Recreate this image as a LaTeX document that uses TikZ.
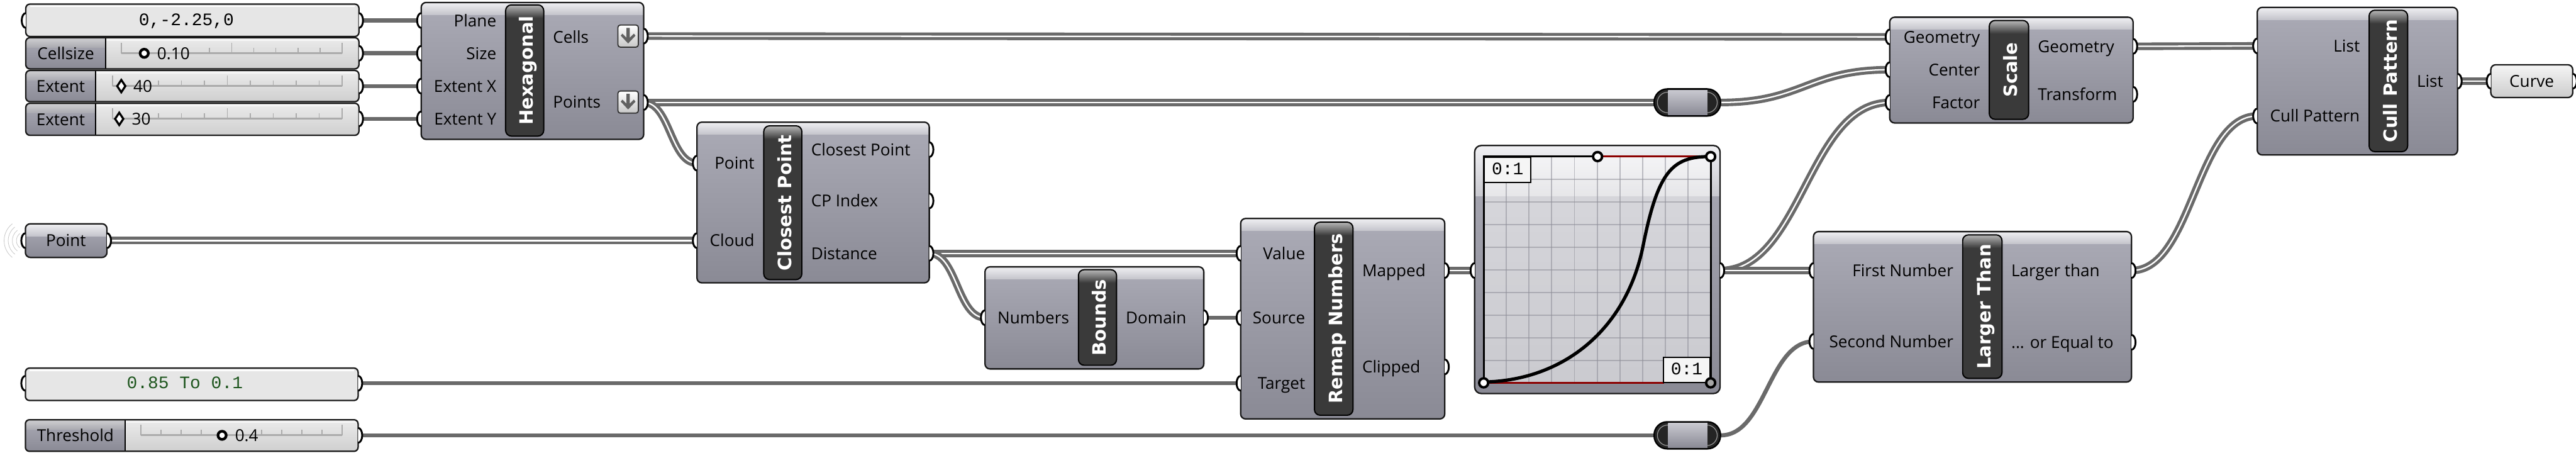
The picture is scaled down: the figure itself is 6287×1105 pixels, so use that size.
\documentclass[tikz,border=0pt]{standalone}
\usepackage{fontspec}
\newfontfamily\labf{Open Sans}
\newfontfamily\ttlf{DejaVu Sans}
\newfontfamily\monof{Liberation Mono}

\definecolor{bodyTop}{HTML}{ABABB6}
\definecolor{bodyBot}{HTML}{8A8A95}
\definecolor{hiTop}{HTML}{F0F0F3}
\definecolor{hiBot}{HTML}{C4C4CB}
\definecolor{wireC}{HTML}{6A6A6A}
\definecolor{ttlC}{HTML}{3A3A3A}
\definecolor{valTop}{HTML}{EBEBEB}
\definecolor{valBot}{HTML}{CFCFCF}
\definecolor{panelC}{HTML}{E6E6E6}
\definecolor{monoGreen}{HTML}{1E561E}
\definecolor{gridC}{HTML}{8E8E98}
\definecolor{redC}{HTML}{8B0000}
\definecolor{tickC}{HTML}{ABABAB}

\tikzset{
  lbl/.style={font=\labf\fontsize{11.4}{13}\selectfont, inner sep=0pt, text height=0.29cm, text depth=0pt},
  ttl/.style={font=\ttlf\bfseries\fontsize{12.7}{14}\selectfont, text=white, rotate=90, inner sep=0pt, text height=0.33cm, text depth=0pt},
  mono/.style={font=\monof\fontsize{12.2}{14}\selectfont, inner sep=0pt, text height=0.245cm, text depth=0pt},
  grip/.style={draw=black, fill=white, line width=0.045cm},
  wire/.style={draw=wireC, line width=0.1cm},
  wlist/.style={draw=wireC, line width=0.075cm, double=white, double distance=0.035cm},
  frame/.style={draw=black!90, line width=0.035cm},
  anchorbox/.style={inner sep=0pt, minimum width=1.62cm, minimum height=0.66cm},
}

% component body: x1 y1 x2 y2
\newcommand\ghbody[4]{%
  \begin{scope}
    \clip[rounded corners=0.12cm] (#1,#2) rectangle (#3,#4);
    \fill[top color=bodyTop,bottom color=bodyBot] (#1,#2) rectangle (#3,#4);
    \fill[top color=hiTop,bottom color=hiBot] (#1,#2) rectangle (#3,#2+30);
  \end{scope}
  \draw[frame,rounded corners=0.12cm] (#1,#2) rectangle (#3,#4);}
% title bar: x1 y1 x2 y2 name text
\newcommand\ghtitle[6]{%
  \begin{scope}
    \clip[rounded corners=0.14cm] (#1,#2) rectangle (#3,#4);
    \fill[ttlC] (#1,#2) rectangle (#3,#4);
    \fill[top color=black!28,bottom color=ttlC] (#1,#2) rectangle (#3,#2+32);
  \end{scope}
  \draw[line width=0.03cm,rounded corners=0.14cm] (#1,#2) rectangle (#3,#4);
  \node[ttl] (#5) at ({(#1+#3)/2+4},{(#2+#4)/2}) {#6};}
% grips
\newcommand\GHin[2]{\filldraw[grip] (#1,#2) ++(0,-18) arc[start angle=90,end angle=270,x radius=0.1cm,y radius=0.18cm];}
\newcommand\GHout[2]{\filldraw[grip] (#1,#2) ++(0,-18) arc[start angle=90,end angle=-90,x radius=0.1cm,y radius=0.18cm];}
% slider: x1 y1 x2 y2 labelx label name
\newcommand\ghslider[7]{%
  \begin{scope}
    \clip[rounded corners=0.1cm] (#1,#2) rectangle (#3,#4);
    \fill[top color=valTop,bottom color=valBot] (#1,#2) rectangle (#3,#4);
    \fill[top color=bodyTop,bottom color=bodyBot] (#1,#2) rectangle (#5,#4);
    \fill[top color=hiTop,bottom color=hiBot,opacity=0.85] (#1,#2) rectangle (#5,#2+24);
    \fill[white,opacity=0.6] (#5,#2) rectangle (#3,#2+7);
  \end{scope}
  \draw[line width=0.03cm] (#5,#2) -- (#5,#4);
  \draw[frame,rounded corners=0.1cm] (#1,#2) rectangle (#3,#4);
  \node[lbl] (#7) at ({(#1+#5)/2},{(#2+#4)/2}) {#6};}
% slider track: x1 x2 y ticklist
\newcommand\ghticks[4]{%
  \draw[tickC,line width=0.045cm] (#1,#3) -- (#2,#3);
  \foreach \i in {#4}{%
    \pgfmathsetmacro\tx{#1+(#2-#1)*\i/10}%
    \pgfmathsetmacro\tkh{(\i==0||\i==5||\i==10)?26:14}%
    \draw[tickC,line width=0.025cm] (\tx,#3) -- (\tx,#3-\tkh);}}
\newcommand\ringknob[2]{\draw[line width=0.065cm,fill=white] (#1,#2) circle[radius=0.1cm];}
\newcommand\diaknob[2]{\draw[line width=0.05cm,fill=white] (#1,#2-15) -- (#1+10,#2) -- (#1,#2+15) -- (#1-10,#2) -- cycle;}
% panel
\newcommand\ghpanel[4]{%
  \draw[frame,rounded corners=0.1cm,fill=panelC] (#1,#2) rectangle (#3,#4);
  \draw[white,line width=0.03cm] (#1+10,#2+6) -- (#3-10,#2+6);}
% relay graphic at centre
\newcommand\ghrelay[2]{%
  \draw[line width=0.035cm,fill=black!86,rounded corners=0.32cm] (#1-81,#2-33) rectangle (#1+81,#2+33);
  \draw[black!40,line width=0.018cm,rounded corners=0.25cm] (#1-73,#2-25) rectangle (#1+73,#2+25);
  \fill[top color=bodyTop!65!white,bottom color=bodyBot] (#1-47,#2-30) rectangle (#1+49,#2+30);}
% down-arrow icon
\newcommand\dicon[2]{%
  \draw[line width=0.028cm,draw=black!80,rounded corners=0.06cm,top color=white,bottom color=black!22] (#1-25,#2-27) rectangle (#1+25,#2+27);
  \fill[black!62] (#1-4,#2-20) -- (#1+4,#2-20) -- (#1+4,#2+4) -- (#1+14,#2-6) -- (#1+18,#2-1) -- (#1,#2+18) -- (#1-18,#2-1) -- (#1-14,#2-6) -- (#1-4,#2+4) -- cycle;}

\begin{document}
\begin{tikzpicture}[x=0.01cm,y=-0.01cm]
\fill[white] (0,0) rectangle (6287,1105);
\useasboundingbox (0,0) rectangle (6287,1105);

% ---------- port coordinates ----------
\coordinate (p1-out) at (876,50);
\coordinate (cs-out) at (876,130);
\coordinate (ex-out) at (876,210);
\coordinate (ey-out) at (876,290);
\coordinate (hx-plane) at (1028,50);
\coordinate (hx-size) at (1028,130);
\coordinate (hx-ex) at (1028,210);
\coordinate (hx-ey) at (1028,290);
\coordinate (hx-cells) at (1571,88);
\coordinate (hx-points) at (1571,250);
\coordinate (pt-out) at (261,587);
\coordinate (cp-point) at (1701,398);
\coordinate (cp-cloud) at (1701,587);
\coordinate (cp-cp) at (2268,365);
\coordinate (cp-idx) at (2268,490);
\coordinate (cp-dist) at (2268,618);
\coordinate (bd-num) at (2404,775);
\coordinate (bd-dom) at (2938,775);
\coordinate (rm-val) at (3028,618);
\coordinate (rm-src) at (3028,775);
\coordinate (rm-tgt) at (3028,935);
\coordinate (rm-map) at (3526,660);
\coordinate (rm-clip) at (3526,895);
\coordinate (gm-in) at (3599,660);
\coordinate (gm-out) at (4198,660);
\coordinate (p2-out) at (874,935);
\coordinate (th-out) at (874,1062);
\coordinate (sc-geo) at (4612,90);
\coordinate (sc-cen) at (4612,170);
\coordinate (sc-fac) at (4612,250);
\coordinate (sc-gout) at (5206,113);
\coordinate (sc-tr) at (5206,230);
\coordinate (cu-list) at (5509,112);
\coordinate (cu-pat) at (5509,283);
\coordinate (cu-out) at (5998,198);
\coordinate (cv-in) at (6079,198);
\coordinate (lt-first) at (4426,660);
\coordinate (lt-second) at (4426,833);
\coordinate (lt-larger) at (5202,660);
\coordinate (lt-eq) at (5202,835);
\node[anchorbox] (rl1) at (4118,250) {};
\node[anchorbox] (rl2) at (4118,1062) {};

% ---------- wires ----------
\draw[wire] (p1-out) -- (hx-plane);
\draw[wire] (cs-out) -- (hx-size);
\draw[wire] (ex-out) -- (hx-ex);
\draw[wire] (ey-out) -- (hx-ey);
\draw[wlist] (hx-cells) -- (sc-geo);
\draw[wlist] (hx-points) -- (rl1.west);
\draw[wlist] (rl1.east) .. controls +(200,0) and +(-200,0) .. (sc-cen);
\draw[wlist] (hx-points) .. controls +(65,0) and +(-65,0) .. (cp-point);
\draw[wlist] (pt-out) -- (cp-cloud);
\draw[wlist] (cp-dist) -- (rm-val);
\draw[wlist] (cp-dist) .. controls +(68,0) and +(-68,0) .. (bd-num);
\draw[wire] (bd-dom) -- (rm-src);
\draw[wire] (p2-out) -- (rm-tgt);
\draw[wlist] (rm-map) -- (gm-in);
\draw[wlist] (gm-out) .. controls +(200,0) and +(-200,0) .. (sc-fac);
\draw[wlist] (gm-out) -- (lt-first);
\draw[wire] (th-out) -- (rl2.west);
\draw[wire] (rl2.east) .. controls +(110,0) and +(-110,0) .. (lt-second);
\draw[wlist] (lt-larger) .. controls +(150,0) and +(-150,0) .. (cu-pat);
\draw[wlist] (sc-gout) -- (cu-list);
\draw[wlist] (cu-out) -- (cv-in);

% ---------- input parameters ----------
\ghpanel{63}{10}{876}{89}
\node[mono] (p1txt) at (455,50) {0,-2.25,0};
\GHin{63}{50}\GHout{876}{50}

\ghslider{63}{92}{876}{168}{258}{Cellsize}{cslbl}
\ghticks{296}{835}{130}{0,4,5,6,7,8,9,10}
\ringknob{352}{130}
\node[lbl,anchor=west] (csval) at (383,130) {0.10};
\GHout{876}{130}

\ghslider{63}{172}{876}{248}{233}{Extent}{exlbl}
\ghticks{275}{835}{210}{0,2,3,4,5,6,7,8,9,10}
\diaknob{296}{210}
\node[lbl,anchor=west] (exval) at (325,210) {40};
\GHout{876}{210}

\ghslider{63}{252}{876}{330}{233}{Extent}{eylbl}
\ghticks{275}{835}{290}{0,2,3,4,5,6,7,8,9,10}
\diaknob{291}{290}
\node[lbl,anchor=west] (eyval) at (321,290) {30};
\GHout{876}{290}

% Point parameter with wireless rings
\foreach \r in {22,32,42,52}{\draw[black!22,line width=0.012cm] (62,587) ++(128:\r*0.01cm) arc[start angle=128,end angle=232,radius=\r*0.01cm];}
\ghbody{62}{546}{261}{628}
\node[lbl] (ptlbl) at (161,587) {Point};
\GHin{62}{587}\GHout{261}{587}

\ghpanel{62}{898}{874}{977}
\node[mono,text=monoGreen] (p2txt) at (451,935) {0.85 To 0.1};
\GHin{62}{935}\GHout{874}{935}

\ghslider{62}{1024}{874}{1101}{306}{Threshold}{thlbl}
\ghticks{344}{835}{1062}{0,1,2,3,6,7,8,9,10}
\ringknob{542}{1062}
\node[lbl,anchor=west] (thval) at (573,1062) {0.4};
\GHout{874}{1062}

% ---------- Hexagonal ----------
\ghbody{1028}{6}{1571}{340}
\ghtitle{1234}{12}{1327}{332}{hxt}{Hexagonal}
\node[lbl,anchor=east] (hxl1) at (1212,50) {Plane};
\node[lbl,anchor=east] (hxl2) at (1212,130) {Size};
\node[lbl,anchor=east] (hxl3) at (1212,210) {Extent X};
\node[lbl,anchor=east] (hxl4) at (1212,290) {Extent Y};
\node[lbl,anchor=west] (hxo1) at (1349,90) {Cells};
\node[lbl,anchor=west] (hxo2) at (1349,248) {Points};
\dicon{1533}{88}
\dicon{1533}{249}
\GHin{1028}{50}\GHin{1028}{130}\GHin{1028}{210}\GHin{1028}{290}
\GHout{1571}{88}\GHout{1571}{250}

% ---------- Closest Point ----------
\ghbody{1701}{298}{2268}{690}
\ghtitle{1864}{307}{1957}{682}{cpt}{Closest Point}
\node[lbl,anchor=east] (cpl1) at (1842,398) {Point};
\node[lbl,anchor=east] (cpl2) at (1842,587) {Cloud};
\node[lbl,anchor=west] (cpo1) at (1979,365) {Closest Point};
\node[lbl,anchor=west] (cpo2) at (1979,490) {CP Index};
\node[lbl,anchor=west] (cpo3) at (1979,618) {Distance};
\GHin{1701}{398}\GHin{1701}{587}
\GHout{2268}{365}\GHout{2268}{490}\GHout{2268}{618}

% ---------- Bounds ----------
\ghbody{2404}{651}{2938}{900}
\ghtitle{2632}{658}{2725}{891}{bdt}{Bounds}
\node[lbl,anchor=east] (bdl1) at (2610,775) {Numbers};
\node[lbl,anchor=west] (bdo1) at (2747,775) {Domain};
\GHin{2404}{775}\GHout{2938}{775}

% ---------- Remap Numbers ----------
\ghbody{3028}{533}{3526}{1022}
\ghtitle{3208}{542}{3302}{1013}{rmt}{Remap Numbers}
\node[lbl,anchor=east] (rml1) at (3186,618) {Value};
\node[lbl,anchor=east] (rml2) at (3186,775) {Source};
\node[lbl,anchor=east] (rml3) at (3186,935) {Target};
\node[lbl,anchor=west] (rmo1) at (3324,660) {Mapped};
\node[lbl,anchor=west] (rmo2) at (3324,895) {Clipped};
\GHin{3028}{618}\GHin{3028}{775}\GHin{3028}{935}
\GHout{3526}{660}\GHout{3526}{895}

% ---------- Graph Mapper ----------
\begin{scope}
  \clip[rounded corners=0.16cm] (3599,355) rectangle (4198,960);
  \fill[top color=bodyTop,bottom color=bodyBot] (3599,355) rectangle (4198,960);
  \fill[top color=hiTop,bottom color=hiBot!92] (3599,355) rectangle (4198,478);
\end{scope}
\draw[frame,rounded corners=0.16cm] (3599,355) rectangle (4198,960);
\fill[white,opacity=0.55] (3621,382) rectangle (4175,934);
\foreach \i in {1,...,9}{
  \draw[gridC,line width=0.03cm,opacity=0.55] ({3621+55.4*\i},382) -- ({3621+55.4*\i},934);
  \draw[gridC,line width=0.03cm,opacity=0.55] (3621,{382+55.2*\i}) -- (4175,{382+55.2*\i});}
\draw[black,line width=0.045cm] (3899,382) -- (3621,382) -- (3621,934);
\draw[black,line width=0.045cm] (4175,382) -- (4175,934);
\draw[redC,line width=0.045cm] (3899,382) -- (4175,382);
\draw[redC,line width=0.045cm] (3621,934) -- (4061,934);
\node[mono,draw,line width=0.03cm,fill=white!96!black,minimum width=1.14cm,minimum height=0.61cm,anchor=north west] (gmA) at (3621,382) {0:1};
\node[mono,draw,line width=0.03cm,fill=white!96!black,minimum width=1.14cm,minimum height=0.60cm,anchor=south east] (gmB) at (4175,934) {0:1};
\draw[line width=0.08cm] (3621,932) .. controls (3820,928) and (3970,800) .. (4010,600) .. controls (4046,420) and (4080,382) .. (4172,382);
\foreach \a/\b in {3621/934,4175/382,3899/382}{\draw[line width=0.06cm,fill=white] (\a,\b) circle[radius=0.11cm];}
\draw[line width=0.06cm,fill=black!35] (4175,934) circle[radius=0.11cm];
\GHin{3599}{660}\GHout{4198}{660}

% ---------- relays ----------
\ghrelay{4118}{250}
\ghrelay{4118}{1062}

% ---------- Scale ----------
\ghbody{4612}{42}{5206}{300}
\ghtitle{4855}{50}{4951}{291}{sct}{Scale}
\node[lbl,anchor=east] (scl1) at (4833,90) {Geometry};
\node[lbl,anchor=east] (scl2) at (4833,170) {Center};
\node[lbl,anchor=east] (scl3) at (4833,250) {Factor};
\node[lbl,anchor=west] (sco1) at (4973,113) {Geometry};
\node[lbl,anchor=west] (sco2) at (4973,230) {Transform};
\GHin{4612}{90}\GHin{4612}{170}\GHin{4612}{250}
\GHout{5206}{113}\GHout{5206}{230}

% ---------- Larger Than ----------
\ghbody{4426}{565}{5202}{932}
\ghtitle{4790}{573}{4886}{923}{ltt}{Larger Than}
\node[lbl,anchor=east] (ltl1) at (4768,660) {First Number};
\node[lbl,anchor=east] (ltl2) at (4768,833) {Second Number};
\node[lbl,anchor=west] (lto1) at (4908,660) {Larger than};
\node[lbl,anchor=west] (lto2) at (4908,835) {... or Equal to};
\GHin{4426}{660}\GHin{4426}{833}
\GHout{5202}{660}\GHout{5202}{835}

% ---------- Cull Pattern ----------
\ghbody{5509}{18}{5998}{378}
\ghtitle{5782}{25}{5876}{370}{cut}{Cull Pattern}
\node[lbl,anchor=east] (cul1) at (5760,112) {List};
\node[lbl,anchor=east] (cul2) at (5760,283) {Cull Pattern};
\node[lbl,anchor=west] (cuo1) at (5898,198) {List};
\GHin{5509}{112}\GHin{5509}{283}
\GHout{5998}{198}

% ---------- Curve ----------
\draw[frame,rounded corners=0.12cm,top color=white!96!black,bottom color=black!20] (6079,158) rectangle (6279,238);
\node[lbl] (cvlbl) at (6179,198) {Curve};
\GHin{6079}{198}\GHout{6279}{198}
\end{tikzpicture}
\end{document}
